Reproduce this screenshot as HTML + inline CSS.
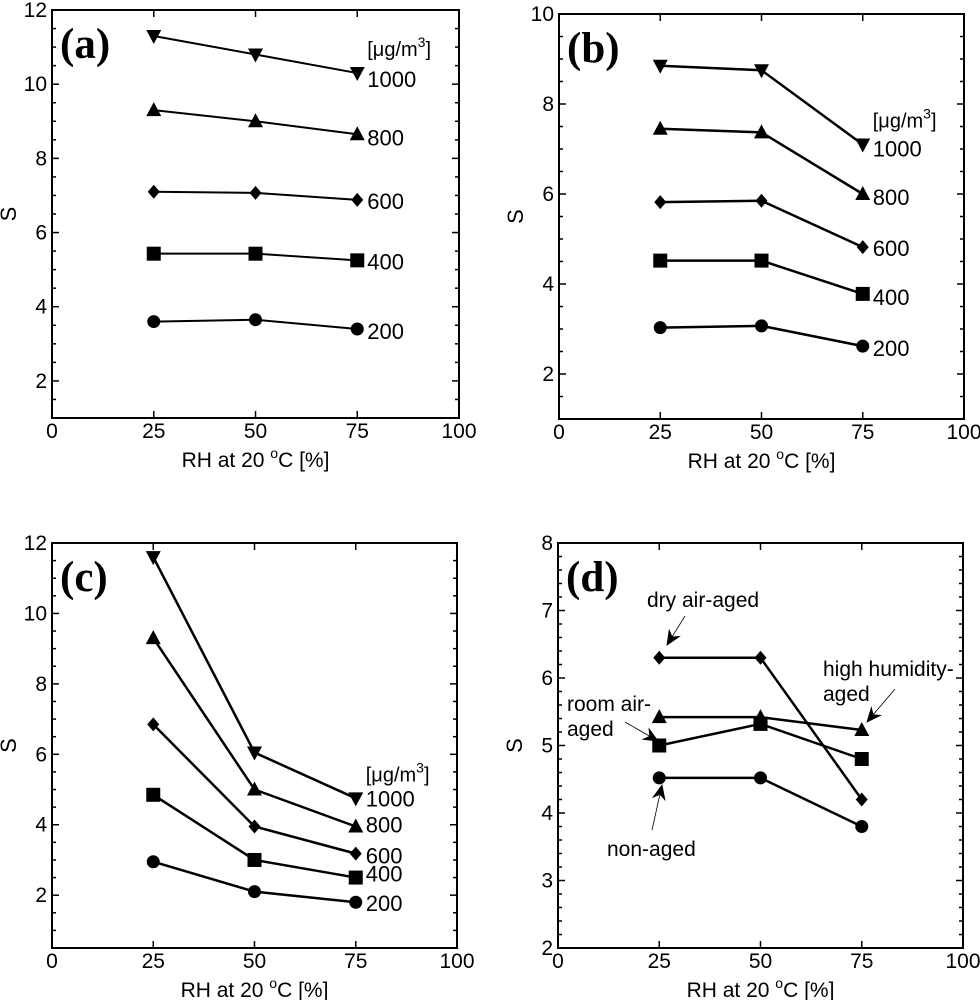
<!DOCTYPE html>
<html><head><meta charset="utf-8"><style>
html,body{margin:0;padding:0;background:#fff;}
svg{display:block;font-family:"Liberation Sans",sans-serif;}
</style></head><body>
<svg id="fig" width="980" height="1000" viewBox="0 0 980 1000" xmlns="http://www.w3.org/2000/svg">
<defs>
<marker id="ah" viewBox="0 0 16 14" refX="15" refY="7" markerWidth="16" markerHeight="14" markerUnits="userSpaceOnUse" orient="auto">
<path d="M0,0 L16,7 L0,14 L5,7 Z" fill="#000"/>
</marker>
</defs>
</svg>
<script>
const xCats = [25, 50, 75];
const xTicks = [0, 25, 50, 75, 100];
const concLabels = ['1000', '800', '600', '400', '200'];
const markers = ['tdown', 'tup', 'diamond', 'square', 'circle'];
const aVals1000 = [11.3, 10.8, 10.3];
const aVals800 = [9.3, 9.0, 8.65];
const aVals600 = [7.1, 7.07, 6.88];
const aVals400 = [5.43, 5.43, 5.25];
const aVals200 = [3.6, 3.65, 3.4];
const bVals1000 = [8.85, 8.75, 7.1];
const bVals800 = [7.45, 7.37, 6.0];
const bVals600 = [5.82, 5.85, 4.82];
const bVals400 = [4.52, 4.52, 3.78];
const bVals200 = [3.03, 3.07, 2.62];
const cVals1000 = [11.6, 6.05, 4.75];
const cVals800 = [9.3, 5.0, 3.95];
const cVals600 = [6.85, 3.95, 3.18];
const cVals400 = [4.85, 3.0, 2.5];
const cVals200 = [2.95, 2.1, 1.8];
const dDry = [6.3, 6.3, 4.2];
const dHigh = [5.42, 5.42, 5.23];
const dRoom = [5.0, 5.32, 4.8];
const dNon = [4.52, 4.52, 3.8];
const aYTicks = [2, 4, 6, 8, 10, 12];
const bYTicks = [2, 4, 6, 8, 10];
const cYTicks = [2, 4, 6, 8, 10, 12];
const dYTicks = [2, 3, 4, 5, 6, 7, 8];

const NS = 'http://www.w3.org/2000/svg';
const svg = document.getElementById('fig');
function mk(tag, attrs, parent) {
  const e = document.createElementNS(NS, tag);
  for (const k in attrs) e.setAttribute(k, attrs[k]);
  (parent || svg).appendChild(e);
  return e;
}

function panel(p) {
  const g = mk('g', {});
  
  
  const X = v => p.l + (v - 0) / 100 * (p.r - p.l);
  const Y = v => p.b - (v - p.ymin) / (p.ymax - p.ymin) * (p.b - p.t);
  for (let v = p.ymin; v <= p.ymax + 1e-9; v += p.minor) {
    const y = Y(v);
    const major = p.yticks.some(t => Math.abs(t - v) < 1e-6);
    const len = major ? 7 : 4;
    mk('line', {x1: p.l, x2: p.l + len, y1: y, y2: y, stroke: '#000', 'stroke-width': 1.5}, g);
    mk('line', {x1: p.r, x2: p.r - len, y1: y, y2: y, stroke: '#000', 'stroke-width': 1.5}, g);
  }
  const yl = mk('g', {}, g);
  
  
  p.yticks.forEach(t => {
    const tx = mk('text', {x: p.l - 5, y: Y(t) + 7, 'font-size': 21, 'text-anchor': 'end'}, yl);
    tx.textContent = String(t);
  });
  const xl = mk('g', {}, g);
  
  
  xTicks.forEach(t => {
    const x = X(t);
    mk('line', {x1: x, x2: x, y1: p.b, y2: p.b - 7, stroke: '#000', 'stroke-width': 1.5}, g);
    mk('line', {x1: x, x2: x, y1: p.t, y2: p.t + 7, stroke: '#000', 'stroke-width': 1.5}, g);
    const tx = mk('text', {x: x, y: p.b + 20, 'font-size': 21, 'text-anchor': 'middle'}, xl);
    tx.textContent = String(t);
  });
  const box = mk('rect', {x: p.l, y: p.t, width: p.r - p.l, height: p.b - p.t, fill: 'none', stroke: '#000', 'stroke-width': 2}, g);
  
  
  const xt = mk('text', {x: (p.l + p.r) / 2, y: p.b + 49, 'font-size': 21, 'text-anchor': 'middle'}, g);
  
  
  xt.innerHTML = 'RH at 20 <tspan dy="-9" font-size="14">o</tspan><tspan dy="9">C [%]</tspan>';
  const yt = mk('text', {x: 0, y: 0, 'font-size': 22, 'text-anchor': 'middle', transform: 'translate(' + (p.l - 36) + ',' + ((p.t + p.b) / 2) + ') rotate(-90)'}, g);
  
  
  yt.textContent = 'S';
  const pl = mk('text', {x: p.l + 8, y: p.t + 48, 'font-size': 43, 'font-weight': 'bold', 'font-family': '"Liberation Serif", serif'}, g);
  
  
  pl.textContent = '(' + p.id + ')';
  p.series.forEach((s, i) => {
    const sg = mk('g', {}, g);
    
    
    const pts = s.vals.map((v, j) => X(xCats[j]) + ',' + Y(v)).join(' ');
    mk('polyline', {points: pts, fill: 'none', stroke: '#000', 'stroke-width': p.lw}, sg);
    s.vals.forEach((v, j) => drawMarker(sg, s.marker, X(xCats[j]), Y(v)));
    if (s.label) {
      const lt = mk('text', {x: X(75) + 10, y: Y(s.vals[2]) + s.dy, 'font-size': 22}, sg);
      
      
      lt.textContent = s.label;
    }
  });
  if (p.unit) {
    const u = mk('text', {x: X(75) + 10, y: Y(p.series[0].vals[2]) - 17, 'font-size': 20}, g);
    
    
    u.innerHTML = '[μg/m<tspan dy="-9" font-size="14">3</tspan><tspan dy="9">]</tspan>';
  }
  return {X, Y, g};
}

function drawMarker(g, type, x, y) {
  let e;
  if (type === 'circle') e = mk('circle', {cx: x, cy: y, r: 6.5}, g);
  else if (type === 'square') e = mk('rect', {x: x - 7, y: y - 7, width: 14, height: 14}, g);
  else if (type === 'diamond') e = mk('polygon', {points: [x, y - 7, x + 6, y, x, y + 7, x - 6, y].join(' ')}, g);
  else if (type === 'tup') e = mk('polygon', {points: [x, y - 8, x + 7.5, y + 6, x - 7.5, y + 6].join(' ')}, g);
  else e = mk('polygon', {points: [x, y + 8, x + 7.5, y - 6, x - 7.5, y - 6].join(' ')}, g);
  e.setAttribute('fill', '#000');
  
  
}

function concSeries(vals, dys) {
  return vals.map((v, i) => ({name: concLabels[i], vals: v, marker: markers[i], label: concLabels[i], dy: dys[i]}));
}

panel({id: 'a', l: 52, r: 459, t: 10, b: 418, ymin: 1, ymax: 12, minor: 0.5, yticks: aYTicks, lw: 2, unit: true,
  series: concSeries([aVals1000, aVals800, aVals600, aVals400, aVals200], [14, 11, 9, 9, 10])});
panel({id: 'b', l: 559, r: 964, t: 14, b: 419, ymin: 1, ymax: 10, minor: 0.5, yticks: bYTicks, lw: 2.5, unit: true,
  series: concSeries([bVals1000, bVals800, bVals600, bVals400, bVals200], [12, 11, 9, 11, 10])});
panel({id: 'c', l: 52, r: 457, t: 543, b: 948, ymin: 0.5, ymax: 12, minor: 0.5, yticks: cYTicks, lw: 2.5, unit: true,
  series: concSeries([cVals1000, cVals800, cVals600, cVals400, cVals200], [8, 6, 10, 4, 9])});
const pd = panel({id: 'd', l: 558, r: 963, t: 543, b: 948, ymin: 2, ymax: 8, minor: 0.2, yticks: dYTicks, lw: 2.5, unit: false,
  series: [
    {name: 'dry-air-aged', vals: dDry, marker: 'diamond'},
    {name: 'high-humidity-aged', vals: dHigh, marker: 'tup'},
    {name: 'room-air-aged', vals: dRoom, marker: 'square'},
    {name: 'non-aged', vals: dNon, marker: 'circle'}
  ]});

function annot(name, lines, tx, ty, ax1, ay1, ax2, ay2) {
  const g = mk('g', {}, pd.g);
  
  
  lines.forEach((l, i) => {
    const t = mk('text', {x: tx, y: ty + i * 25, 'font-size': 21}, g);
    t.textContent = l;
  });
  mk('line', {x1: ax1, y1: ay1, x2: ax2, y2: ay2, stroke: '#000', 'stroke-width': 0.8, 'marker-end': 'url(#ah)'}, g);
}
annot('dry-air-aged-annotation', ['dry air-aged'], 647, 607, 685, 616, 667, 645);
annot('high-humidity-annotation', ['high humidity-', 'aged'], 823, 676, 895, 689, 867, 722);
annot('room-air-annotation', ['room air-', 'aged'], 567, 711, 625, 722, 658, 741);
annot('non-aged-annotation', ['non-aged'], 607, 856, 652, 830, 662, 785);
</script>
</body></html>
